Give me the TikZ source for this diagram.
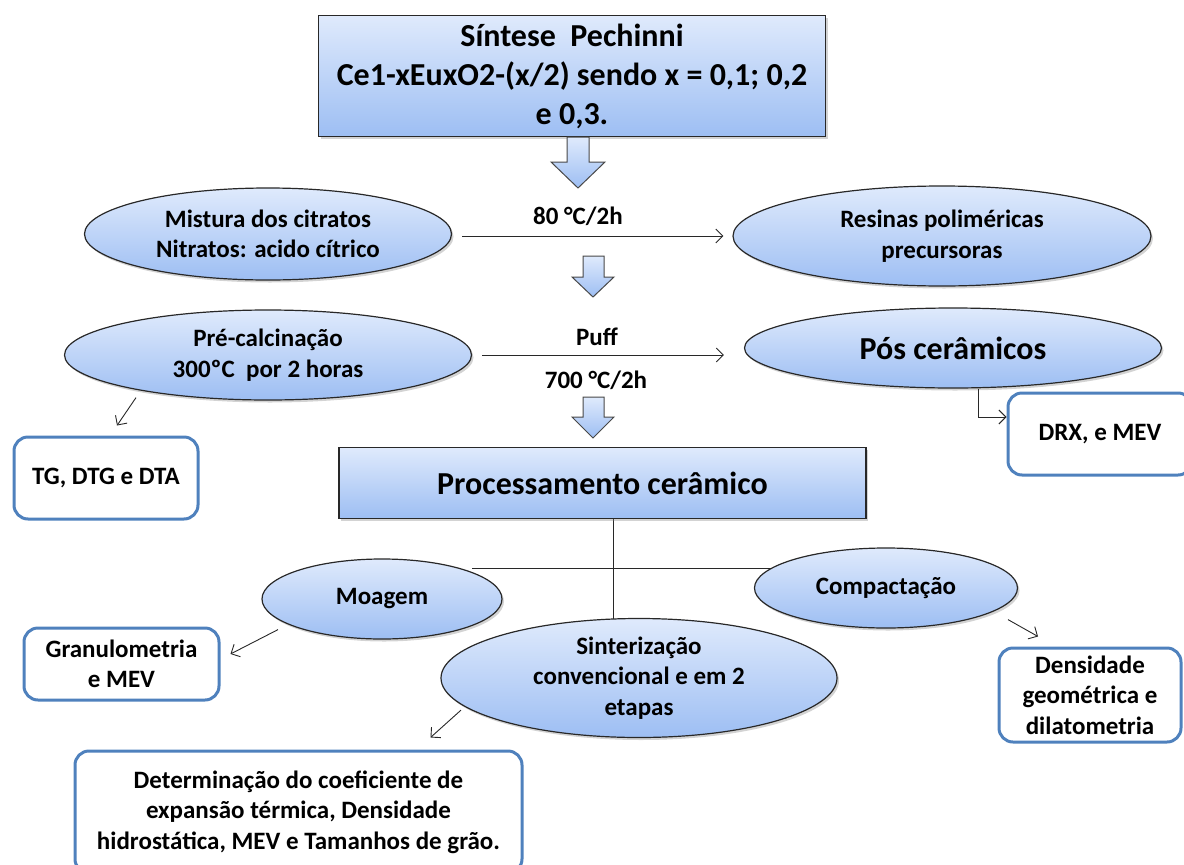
\documentclass[tikz,border=0pt]{standalone}
\usepackage{fontspec}
\setmainfont{Carlito}
\usetikzlibrary{shapes.geometric,arrows.meta,shadows,backgrounds}

\definecolor{azulclaro}{RGB}{223,234,252}
\definecolor{azulmedio}{RGB}{157,190,243}
\definecolor{azulborda}{RGB}{79,129,189}
\definecolor{contorno}{RGB}{40,40,40}

\begin{document}
\begin{tikzpicture}[x=1pt,y=-1pt,
  caixa/.style={rectangle, draw=contorno, line width=1.2pt, top color=azulclaro, bottom color=azulmedio, drop shadow={shadow xshift=2pt,shadow yshift=-2.5pt,opacity=0.35}, inner sep=0pt, align=center},
  etapa/.style={ellipse, draw=contorno, line width=1.2pt, top color=azulclaro, bottom color=azulmedio, drop shadow={shadow xshift=2pt,shadow yshift=-2.5pt,opacity=0.35}, inner sep=0pt, align=center},
  analise/.style={rectangle, rounded corners=14pt, draw=azulborda, line width=3pt, fill=white, inner sep=0pt, align=center},
  bloco/.style={draw=contorno!85, line width=1pt, top color=azulclaro, bottom color=azulmedio},
  seta/.style={draw=contorno, line width=0.9pt, -{Straight Barb[length=7pt,width=14pt]}},
  linha/.style={draw=contorno, line width=1pt},
  txtp/.style={font=\fontsize{25}{30.5}\selectfont\bfseries},
  txtg/.style={font=\fontsize{32}{39}\selectfont\bfseries}]
\useasboundingbox (0,0) rectangle (1184,865);

%Shape: Rectangle
\node [caixa, txtg, minimum width=507, minimum height=121] (sintese) at (572,76) {Síntese~~Pechinni\\Ce1-xEuxO2-(x/2) sendo x = 0,1; 0,2\\e 0,3.};
%Shape: Down Arrow
\draw [bloco] (567,137) -- (589,137) -- (589,162) -- (605,162) -- (578,188) -- (551,162) -- (567,162) -- cycle ;

%Shape: Ellipse
\node [etapa, txtp, minimum width=367, minimum height=92] (mistura) at (268,234) {Mistura dos citratos\\Nitratos: acido cítrico};
%Shape: Ellipse
\node [etapa, txtp, minimum width=418, minimum height=100] (resinas) at (942,236) {Resinas poliméricas\\precursoras};
% Text Node
\node [txtp] (rot80) at (578,216) {80 °C/2h};
%Shape: Down Arrow
\draw [bloco] (583,256) -- (604,256) -- (604,277) -- (614,277) -- (593,297) -- (572,277) -- (583,277) -- cycle ;

%Shape: Ellipse
\node [etapa, txtp, minimum width=407, minimum height=90] (precalc) at (268,355) {Pré-calcinação\\300ºC~~por 2 horas};
%Shape: Ellipse
\node [etapa, txtg, minimum width=417, minimum height=80] (pos) at (953,348) {Pós cerâmicos};
% Text Node
\node [txtp] (puff) at (597,337) {Puff};
% Text Node
\node [txtp] (rot700) at (596,380) {700 °C/2h};
%Shape: Down Arrow
\draw [bloco] (583,397) -- (604,397) -- (604,417) -- (614,417) -- (593,438) -- (572,417) -- (583,417) -- cycle ;

%Shape: Rounded Rectangle
\node [analise, txtp, minimum width=184, minimum height=82] (tg) at (106,478) {TG, DTG e DTA};
%Shape: Rounded Rectangle
\node [analise, txtp, minimum width=184, minimum height=82] (drx) at (1100,434) {DRX, e MEV};

%Shape: Rectangle
\node [caixa, txtg, minimum width=527, minimum height=71] (proc) at (602.5,483) {Processamento cerâmico};

%Shape: Ellipse
\node [etapa, txtp, minimum width=240, minimum height=80] (moagem) at (382,599) {Moagem};
%Shape: Ellipse
\node [etapa, txtp, minimum width=263, minimum height=80] (compact) at (886,588) {Compactação};
%Shape: Ellipse
\node [etapa, txtp, minimum width=396, minimum height=119] (sint) at (639,678) {Sinterização\\convencional e em 2\\etapas};

%Shape: Rounded Rectangle
\node [analise, txtp, minimum width=195, minimum height=72] (gran) at (121.5,664) {Granulometria\\e MEV};
%Shape: Rounded Rectangle
\node [analise, txtp, minimum width=182, minimum height=94] (dens) at (1090,695) {Densidade\\geométrica e\\dilatometria};
%Shape: Rounded Rectangle
\node [analise, txtp, minimum width=447, minimum height=122] (det) at (298.5,812) {Determinação do coeficiente de\\expansão térmica, Densidade\\hidrostática, MEV e Tamanhos de grão.};

% Connection
\draw [seta] ([xshift=10pt]mistura.east |- resinas.west) -- ([xshift=-9pt]resinas.west) ;
% Connection
\draw [seta] ([xshift=10pt]precalc.east) -- ([xshift=-20pt]precalc.east -| pos.west) ;
% Connection
\draw [seta] ([xshift=25pt]pos.south) |- ([yshift=17pt]drx.west) ;
% Connection
\draw [seta] ([shift={(-132,-3)}]precalc.south) -- ([shift={(11,-10)}]tg.north) ;
% Connection
\draw [seta] ([shift={(-104,-10)}]moagem.south) -- ([shift={(10,-10)}]gran.east) ;
% Connection
\draw [seta] ([shift={(-178,-28)}]sint.south) -- ([shift={(132,-12)}]det.north) ;
% Connection
\draw [seta] ([shift={(122,-9)}]compact.south) -- ([shift={(-52,-10)}]dens.north) ;

%Straight Lines
\coordinate (juncao) at (613,568);
\begin{scope}[on background layer]
\draw [linha] (proc.south -| juncao) -- (sint.center -| juncao) ;
\draw [linha] ([xshift=90pt]moagem.center |- juncao) -- (compact.center |- juncao) ;
\end{scope}

\end{tikzpicture}
\end{document}
